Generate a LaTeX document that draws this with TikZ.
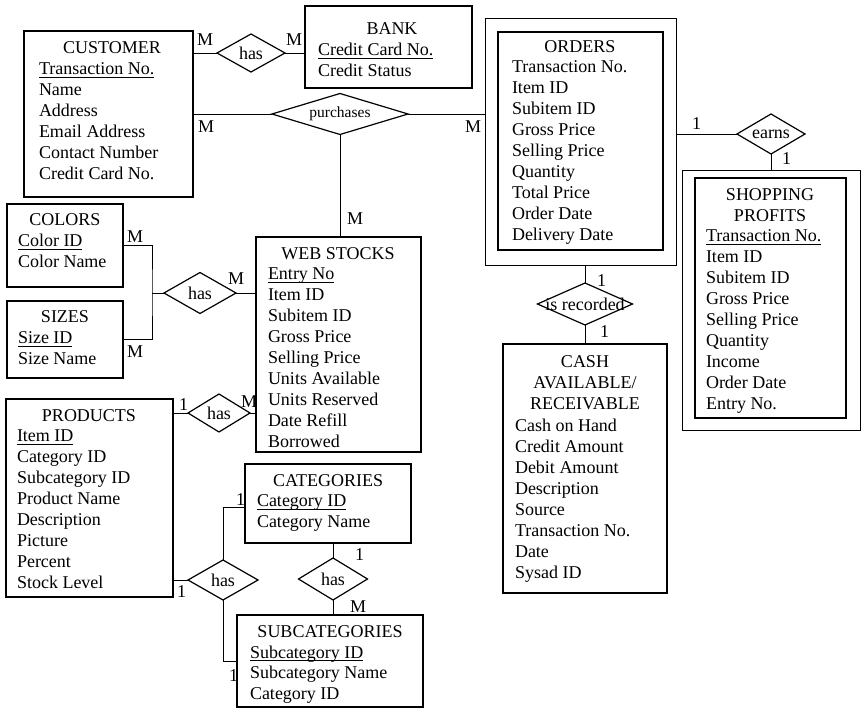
\documentclass[tikz,border=0pt]{standalone}
\usepackage{fontspec}
\setmainfont{Liberation Serif}
\usetikzlibrary{shapes.geometric,fit}

% attribute column (left aligned) and centred title block, baseline on first row
\newcommand\attrlist[1]{\begin{tabular}[t]{@{}l@{}}#1\end{tabular}}
\newcommand\titlelines[1]{\begin{tabular}[t]{@{}c@{}}#1\end{tabular}}
% key attribute: rule set just under the baseline
\newcommand\keyattr[1]{\setbox0\hbox{#1}\rlap{\rule[-2.6pt]{\wd0}{0.8pt}}\box0}

\begin{document}
\begin{tikzpicture}[x=1pt,y=-1pt,
  every node/.style={font=\fontsize{18}{20.9}\selectfont, inner sep=0pt, outer sep=0pt},
  ebox/.style={draw, line width=1.2pt},
  outerbox/.style={draw, line width=0.9pt},
  rel/.style={draw, diamond, line width=1.2pt},
  entitle/.style={anchor=base},
  attrs/.style={anchor=base west},
  card/.style={anchor=base west},
  link/.style={line width=0.9pt},
  faint/.style={line width=0.6pt}
]
\useasboundingbox (0,0) rectangle (863,711);

% ---------------- entities ----------------
% CUSTOMER
\node[ebox, fit={(24,31) (193,197)}] (customer) {};
\node[entitle] (customer-title) at (112,54) {CUSTOMER};
\node[attrs] (customer-attrs) at (39,75) {\attrlist{\keyattr{Transaction No.}\\Name\\Address\\Email Address\\Contact Number\\Credit Card No.}};

% BANK
\node[ebox, fit={(305,6) (472,88)}] (bank) {};
\node[entitle] (bank-title) at (392,35) {BANK};
\node[attrs] (bank-attrs) at (318,56) {\attrlist{\keyattr{Credit Card No.}\\Credit Status}};

% ORDERS (double frame)
\node[outerbox, fit={(485,18) (676,265)}] (ordersout) {};
\node[ebox, fit={(498,32) (663,250)}] (orders) {};
\node[entitle] (orders-title) at (580,53) {ORDERS};
\node[attrs] (orders-attrs) at (512,73) {\attrlist{Transaction No.\\Item ID\\Subitem ID\\Gross Price\\Selling Price\\Quantity\\Total Price\\Order Date\\Delivery Date}};

% SHOPPING PROFITS (double frame)
\node[outerbox, fit={(682,170) (860,430)}] (profitsout) {};
\node[ebox, fit={(695,178) (846,418)}] (profits) {};
\node[entitle] (profits-title) at (770,201) {\titlelines{SHOPPING\\PROFITS}};
\node[attrs] (profits-attrs) at (706,242) {\attrlist{\keyattr{Transaction No.}\\Item ID\\Subitem ID\\Gross Price\\Selling Price\\Quantity\\Income\\Order Date\\Entry No.}};

% CASH AVAILABLE / RECEIVABLE
\node[ebox, fit={(503,344) (667,593)}] (cash) {};
\node[entitle] (cash-title) at (585,368) {\titlelines{CASH\\AVAILABLE/\\RECEIVABLE}};
\node[attrs] (cash-attrs) at (515,432) {\attrlist{Cash on Hand\\Credit Amount\\Debit Amount\\Description\\Source\\Transaction No.\\Date\\Sysad ID}};

% COLORS
\node[ebox, fit={(7,204) (123,287)}] (colors) {};
\node[entitle] (colors-title) at (65,226) {COLORS};
\node[attrs] (colors-attrs) at (18,247) {\attrlist{\keyattr{Color ID}\\Color Name}};

% SIZES
\node[ebox, fit={(7,301) (123,378)}] (sizes) {};
\node[entitle] (sizes-title) at (65,323) {SIZES};
\node[attrs] (sizes-attrs) at (18,344) {\attrlist{\keyattr{Size ID}\\Size Name}};

% WEB STOCKS
\node[ebox, fit={(256,237) (421,452)}] (webstocks) {};
\node[entitle] (webstocks-title) at (338,260) {WEB STOCKS};
\node[attrs] (webstocks-attrs) at (268,280) {\attrlist{\keyattr{Entry No}\\Item ID\\Subitem ID\\Gross Price\\Selling Price\\Units Available\\Units Reserved\\Date Refill\\Borrowed}};

% PRODUCTS
\node[ebox, fit={(6,399) (173,597)}] (products) {};
\node[entitle] (products-title) at (89,422) {PRODUCTS};
\node[attrs] (products-attrs) at (17,442) {\attrlist{\keyattr{Item ID}\\Category ID\\Subcategory ID\\Product Name\\Description\\Picture\\Percent\\Stock Level}};

% CATEGORIES
\node[ebox, fit={(245,464) (411,543)}] (categories) {};
\node[entitle] (categories-title) at (328,486) {CATEGORIES};
\node[attrs] (categories-attrs) at (257,507) {\attrlist{\keyattr{Category ID}\\Category Name}};

% SUBCATEGORIES
\node[ebox, fit={(237,615) (423,707)}] (subcategories) {};
\node[entitle] (subcategories-title) at (330,637) {SUBCATEGORIES};
\node[attrs] (subcategories-attrs) at (250,658) {\attrlist{\keyattr{Subcategory ID}\\Subcategory Name\\Category ID}};

% ---------------- relationships ----------------
\node[rel, minimum width=68pt, minimum height=38pt] (has1) at (251,53) {\makebox[0pt]{has}};
\node[rel, minimum width=136pt, minimum height=41pt] (purchases) at (340,114) {\makebox[0pt]{\fontsize{15.5}{18}\selectfont purchases}};
\node[rel, minimum width=72pt, minimum height=41pt] (has2) at (200,293) {\makebox[0pt]{has}};
\node[rel, minimum width=62pt, minimum height=38pt] (has3) at (219,413) {\makebox[0pt]{has}};
\node[rel, minimum width=70pt, minimum height=40pt] (has4) at (223,580) {\makebox[0pt]{has}};
\node[rel, minimum width=69pt, minimum height=42pt] (has5) at (333,579) {\makebox[0pt]{has}};
\node[rel, minimum width=68pt, minimum height=40pt] (earns) at (771,134) {\makebox[0pt]{earns}};
\node[rel, minimum width=95pt, minimum height=42pt] (isrec) at (585,304) {\makebox[0pt]{is recorded}};

% ---------------- connectors ----------------
\draw[link] (customer.east |- has1.west) -- (has1.west);
\draw[link] (has1.east) -- (has1.east -| bank.west);
\draw[link] (customer.east |- purchases.west) -- (purchases.west);
\draw[link] (purchases.east) -- (purchases.east -| ordersout.west);
\draw[link] (purchases.south) -- (purchases.south |- webstocks.north);

\coordinate (cs-join) at (152,293);
\draw[link] (colors.east) -| (cs-join) |- (sizes.east);
\draw[link] (cs-join) -- (has2.west);
\draw[link] (has2.east) -- (has2.east -| webstocks.west);

\draw[faint] (products.east |- has3.west) -- (has3.west);
\draw[link] (has3.east) -- (has3.east -| webstocks.west);

\draw[faint] (products.east |- has4.west) -- (has4.west);
\draw[faint] (has4.north) |- ([yshift=-4pt]categories.west);
\draw[faint] (has4.south) |- (subcategories.west);

\draw[link] (categories.south -| has5.north) -- (has5.north);
\draw[link] (has5.south) -- (has5.south |- subcategories.north);

\draw[link] (ordersout.east |- earns.west) -- (earns.west);
\draw[link] (earns.south) -- (earns.south |- profitsout.north);

\draw[link] (ordersout.south -| isrec.north) -- (isrec.north);
\draw[link] (isrec.south) -- (isrec.south |- cash.north);

% ---------------- cardinalities ----------------
\node[card] (c-has1-l) at (197,46) {M};
\node[card] (c-has1-r) at (286,46) {M};
\node[card] (c-pur-l) at (198,133) {M};
\node[card] (c-pur-r) at (465,133) {M};
\node[card] (c-pur-d) at (347,225) {M};
\node[card] (c-colors) at (127,243) {M};
\node[card] (c-sizes) at (127,358) {M};
\node[card] (c-has2-r) at (228,285) {M};
\node[card] (c-has3-l) at (179,411) {1};
\node[card] (c-has3-r) at (241,408) {M};
\node[card] (c-has4-l) at (177,597) {1};
\node[card] (c-has4-u) at (236,505) {1};
\node[card] (c-has4-d) at (229,681) {1};
\node[card] (c-has5-u) at (355,560) {1};
\node[card] (c-has5-d) at (350,612) {M};
\node[card] (c-earns-l) at (692,130) {1};
\node[card] (c-earns-d) at (782,165) {1};
\node[card] (c-rec-u) at (597,287) {1};
\node[card] (c-rec-d) at (600,338) {1};
\end{tikzpicture}
\end{document}
